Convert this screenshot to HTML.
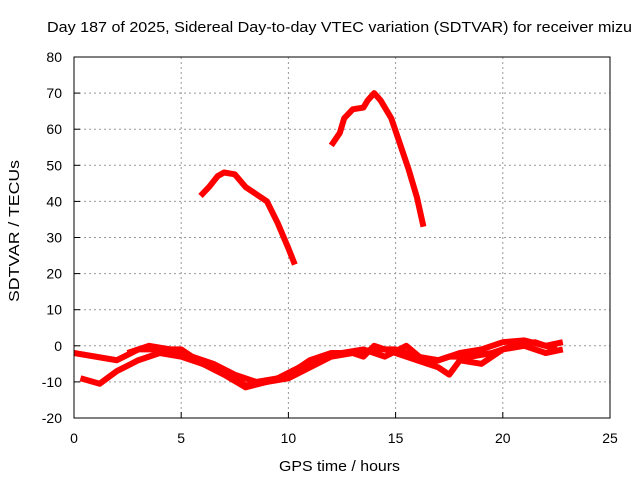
<!DOCTYPE html>
<html><head><meta charset="utf-8"><style>
body{margin:0;background:#fff}
svg{display:block;font-family:"Liberation Sans",sans-serif}
</style></head><body>
<svg id="c" width="640" height="480">
<text x="47" y="32" font-size="15" textLength="585" lengthAdjust="spacingAndGlyphs">Day 187 of 2025, Sidereal Day-to-day VTEC variation (SDTVAR) for receiver mizu</text>
<text x="279" y="471" font-size="15" textLength="121" lengthAdjust="spacingAndGlyphs">GPS time / hours</text>
<text transform="translate(19,302) rotate(-90)" font-size="15" textLength="142" lengthAdjust="spacingAndGlyphs">SDTVAR / TECUs</text>
<g id="grid"></g><g id="series"></g>
<rect x="74" y="57" width="536" height="361" fill="none" stroke="#000"/>
</svg>
<script>
const xTicks=[0,5,10,15,20,25];
const yTicks=[-20,-10,0,10,20,30,40,50,60,70,80];
const arc1X=[5.9,6.3,6.7,7.0,7.5,8.0,8.5,9.0,9.5,10.0,10.3];
const arc1Y=[41.5,44,47,48,47.5,44,42,40,34,27,22.5];
const arc2X=[12.0,12.4,12.6,13.0,13.5,13.7,14.0,14.3,14.8,15.2,15.6,16.0,16.3];
const arc2Y=[55.5,59,63,65.5,66,68,70,68,63,56,49,41,33];
const lowAX=[0,1,2,3,4,5,6,7,8,9,10,11,12,13,14,15,16,17,18,19,20,21,22,22.8];
const lowAY=[-2,-3,-4,-1,-1,-1,-5,-7,-11,-10,-8,-4,-2,-2,-1,-1,-3,-4,-2,-1,1,1.5,0,1];
const lowBX=[0.3,1.2,2,3,4,5,6,7,8,9,10,11,12,13,13.5,14,15,16,17,17.5,18,19,20,21,22,22.8];
const lowBY=[-9,-10.5,-7,-4,-2,-3,-5,-8,-11.5,-10,-9,-6,-3,-2,-3,0,-2,-4,-6,-8,-4,-5,-1,0,-2,-1];
const lowCX=[2.5,3.5,4.5,5.5,6.5,7.5,8.5,9.5,10.5,11.5,12.5,13.5,14.5,15.5,16.5,17.5,18.5,19.5,20.5,21.5,22.5];
const lowCY=[-2,0,-1,-3,-5,-8,-10,-9,-6,-3,-2,-1,-3,0,-5,-3,-3,-2,0,1,-1];
const X=v=>74+v*536/25, Y=v=>418-(v+20)*361/100;
const NS="http://www.w3.org/2000/svg", svg=document.getElementById('c');
const grid=document.getElementById('grid'), ser=document.getElementById('series');
function mk(t,a,p){const e=document.createElementNS(NS,t);for(const k in a)e.setAttribute(k,a[k]);p.appendChild(e);return e;}
xTicks.forEach(t=>{
 if(t>0&&t<25){const l=mk('line',{x1:X(t),x2:X(t),y1:57,y2:418,stroke:'#999','stroke-dasharray':'2,3'},grid);
 
 }
 mk('line',{x1:X(t),x2:X(t),y1:418,y2:412,stroke:'#000'},grid);
 const tx=mk('text',{x:X(t),y:443,'font-size':14,'text-anchor':'middle'},svg);tx.textContent=t;
 
 
});
yTicks.forEach(t=>{
 if(t>-20&&t<80){const l=mk('line',{x1:74,x2:610,y1:Y(t),y2:Y(t),stroke:'#999','stroke-dasharray':'2,3'},grid);
 
 }
 mk('line',{x1:74,x2:80,y1:Y(t),y2:Y(t),stroke:'#000'},grid);
 const tx=mk('text',{x:62,y:Y(t)+5,'font-size':14,'text-anchor':'end'},svg);tx.textContent=t;
 
 
});
[[arc1X,arc1Y,'arc-1'],[arc2X,arc2Y,'arc-2'],[lowAX,lowAY,'low-track-a'],[lowBX,lowBY,'low-track-b'],[lowCX,lowCY,'low-track-c']].forEach(([xs,ys,n])=>{
 const p=mk('polyline',{points:xs.map((x,i)=>X(x)+','+Y(ys[i])).join(' '),fill:'none',stroke:'#f00','stroke-width':6,'stroke-linejoin':'round'},ser);
 
 
});
</script>
</body></html>
